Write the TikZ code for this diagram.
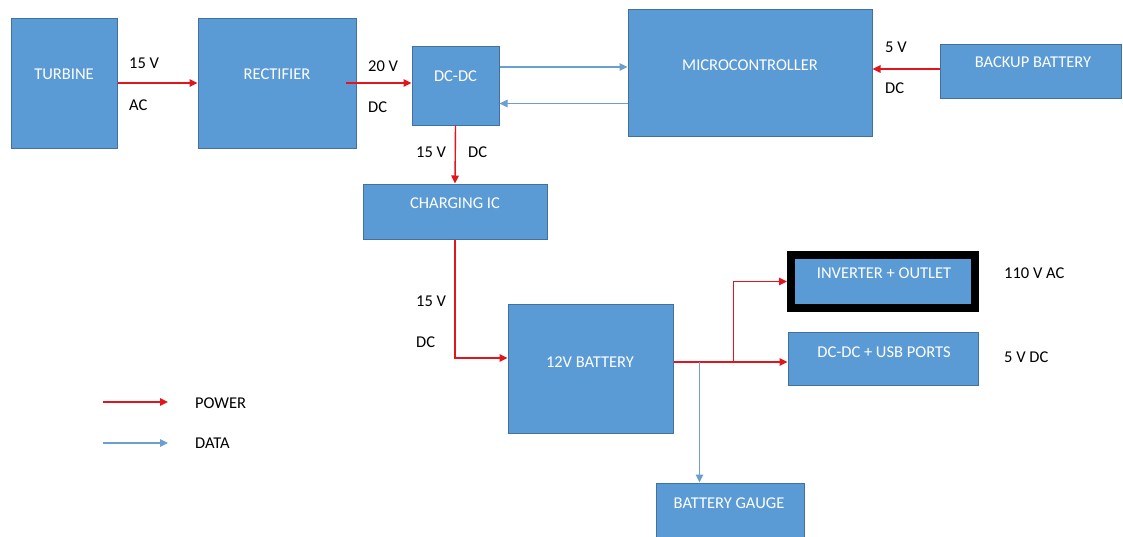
\documentclass[tikz,border=0pt]{standalone}
\usepackage{fontspec}
\setmainfont{Carlito}
\usetikzlibrary{fit,arrows.meta}
\definecolor{boxblue}{HTML}{5B9BD5}
\definecolor{boxedge}{HTML}{41719C}
\definecolor{pwred}{HTML}{E3141B}
\definecolor{datablue}{HTML}{6A9FCF}
\begin{document}
\begin{tikzpicture}[x=1pt,y=-1pt,
  box/.style={fill=boxblue,draw=boxedge,line width=1pt,inner sep=0pt},
  boxtxt/.style={text=white,font=\fontsize{16.5}{18}\selectfont,inner sep=0pt},
  lbl/.style={text=black,font=\fontsize{16.5}{18}\selectfont,inner sep=0pt,anchor=west},
  pw/.style={draw=pwred,line width=1.4pt,-{Triangle[length=8pt,width=7.5pt]}},
  pwline/.style={draw=pwred,line width=1.4pt},
  dt/.style={draw=datablue,line width=1.4pt,-{Triangle[length=8pt,width=7.5pt]}}]
\useasboundingbox (0,0) rectangle (1123,536);
\clip (0,0) rectangle (1123,536);
\fill[white] (0,0) rectangle (1123,536);

% blocks
\node[box,fit={(11,18)(117,148)}] (turb) {};
\node[boxtxt] (turbT) at (64,74) {TURBINE};
\node[box,fit={(198,18)(356,148)}] (rect) {};
\node[boxtxt] (rectT) at (277,74) {RECTIFIER};
\node[box,fit={(412,46)(499,125)}] (dcdc) {};
\node[boxtxt] (dcdcT) at (455.5,76) {DC-DC};
\node[box,fit={(628,9)(872,136)}] (mcu) {};
\node[boxtxt] (mcuT) at (750,65) {MICROCONTROLLER};
\node[box,fit={(940,44)(1121,98)}] (bak) {};
\node[boxtxt] (bakT) at (1033,62) {BACKUP BATTERY};
\node[box,fit={(363,184)(547,239)}] (chg) {};
\node[boxtxt] (chgT) at (455,203) {CHARGING IC};
\node[box,fit={(508,304)(673,433)}] (bat) {};
\node[box,draw=black,line width=8pt,fit={(791,255)(975,308)}] (inv) {};
\node[boxtxt] (batT) at (590,362) {12V BATTERY};
\node[boxtxt] (invT) at (884,273) {INVERTER + OUTLET};
\node[box,fit={(788,332)(978,385)}] (usb) {};
\node[boxtxt] (usbT) at (884,352) {DC-DC + USB PORTS};
\node[box,fit={(656,483)(804,545)}] (gauge) {};
\node[boxtxt] (gaugeT) at (729,503) {BATTERY GAUGE};

% labels
\node[lbl] (l1) at (129,63) {15 V};
\node[lbl] (l2) at (129,105) {AC};
\node[lbl] (l3) at (368,66) {20 V};
\node[lbl] (l4) at (368,107) {DC};
\node[lbl] (l5) at (416,152) {15 V};
\node[lbl] (l6) at (468,152) {DC};
\node[lbl] (l7) at (885,47) {5 V};
\node[lbl] (l8) at (885,88) {DC};
\node[lbl] (l9) at (416,301) {15 V};
\node[lbl] (l10) at (416,342) {DC};
\node[lbl] (l11) at (1004,273) {110 V AC};
\node[lbl] (l12) at (1004,357) {5 V DC};
\node[lbl] (lp) at (195,403) {POWER};
\node[lbl] (ld) at (195,443) {DATA};

% helper coordinates
\coordinate (r1) at ([xshift=-11pt]rect.east);
\coordinate (d1) at ([yshift=18.5pt]dcdc.east);
\coordinate (d2) at ([yshift=-31pt]mcu.west);
\coordinate (b1) at ([yshift=10.5pt]bat.west);
\coordinate (b2) at ([yshift=6.5pt]bat.east);
\coordinate (j) at ([xshift=60pt]b2);
\coordinate (g) at ([xshift=26pt]b2);
\coordinate (bk) at ([yshift=2pt]bak.west);
\coordinate (pa) at (103,402);
\coordinate (pb) at (168,402);
\coordinate (da) at (103,443);
\coordinate (db) at (168,443);

% power connectors
\draw[pw] (turb) -- (rect);
\draw[pw] (r1) -- (r1 -| dcdc.west);
\draw[pw] (dcdc.south) -- (chg.north);
\draw[pw] (chg.south) |- (b1);
\draw[pwline] (b2) -- (j);
\draw[pw] (j) |- (inv.west);
\draw[pw] (j) -- (j -| usb.west);
\draw[pw] (bk) -- (bk -| mcu.east);

% data connectors
\draw[dt] (d1) -- (d1 -| mcu.west);
\draw[dt] (d2) -- (d2 -| dcdc.east);
\draw[dt] (g) -- (g |- gauge.north);

% legend
\draw[pw] (pa) -- (pb);
\draw[dt] (da) -- (db);
\end{tikzpicture}
\end{document}
